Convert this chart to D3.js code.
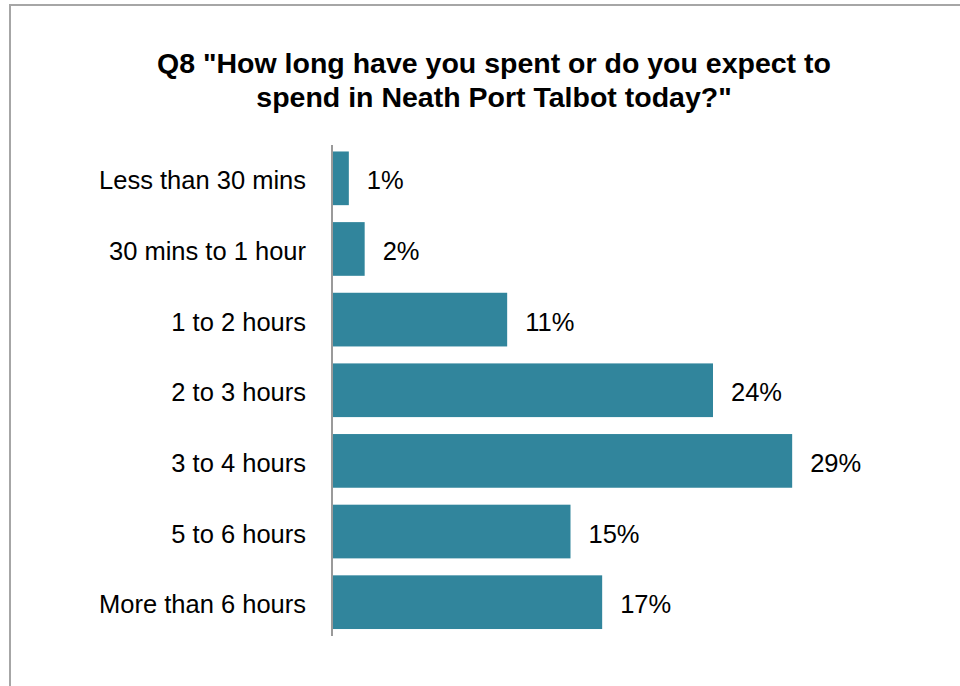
<!DOCTYPE html>
<html><head><meta charset="utf-8">
<script src="https://cdn.jsdelivr.net/npm/d3@7/dist/d3.min.js"></script>
<style>body{margin:0;background:#fff}svg{display:block}</style>
</head><body>
<script>
const categories = ["Less than 30 mins","30 mins to 1 hour","1 to 2 hours","2 to 3 hours","3 to 4 hours","5 to 6 hours","More than 6 hours"];
const values = [1,2,11,24,29,15,17];
const titleLines = ['Q8 "How long have you spent or do you expect to','spend in Neath Port Talbot today?"'];

const W=960,H=686;
const svg=d3.select("body").append("svg").attr("width",W).attr("height",H);
svg.append("rect").attr("x",10).attr("y",5).attr("width",W).attr("height",H)
  .attr("fill","#fff").attr("stroke","#a6a6a6").attr("stroke-width",2);

const font="'Liberation Sans', Arial, sans-serif";
svg.append("g").selectAll("text").data(titleLines).join("text")
  .attr("x",494).attr("y",(d,i)=>73+i*34).attr("text-anchor","middle")
  .attr("font-family",font).attr("font-weight","bold").attr("font-size",28.5)
  .attr("fill","#000").text(d=>d);

const x=d3.scaleLinear().domain([0,30]).range([333,333+475]);
const y=d3.scaleBand().domain(categories).range([143,637.5]).paddingInner(0.24).paddingOuter(0.12);

svg.append("g").selectAll("rect").data(values).join("rect")
  .attr("x",x(0)).attr("y",(d,i)=>y(categories[i]))
  .attr("width",d=>x(d)-x(0)).attr("height",y.bandwidth())
  .attr("fill","#31859c");

svg.append("line").attr("x1",332).attr("x2",332).attr("y1",145).attr("y2",636)
  .attr("stroke","#9a9a9a").attr("stroke-width",2);

svg.append("g").selectAll("text").data(categories).join("text")
  .attr("x",306).attr("y",d=>y(d)+y.bandwidth()/2+11)
  .attr("text-anchor","end").attr("font-family",font).attr("font-size",25.5)
  .attr("fill","#000").text(d=>d);

svg.append("g").selectAll("text").data(values).join("text")
  .attr("x",d=>x(d)+18).attr("y",(d,i)=>y(categories[i])+y.bandwidth()/2+11)
  .attr("font-family",font).attr("font-size",25.5)
  .attr("fill","#000").text(d=>d+"%");
</script>
</body></html>
